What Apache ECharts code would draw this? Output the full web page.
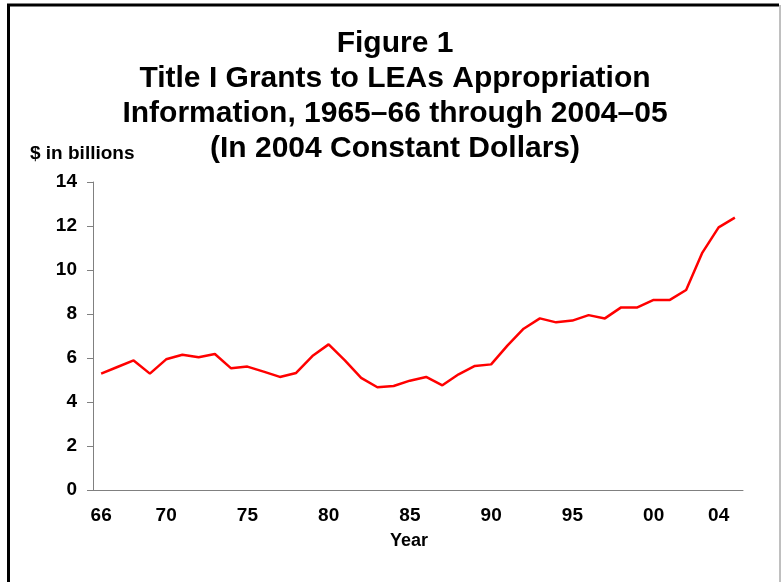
<!DOCTYPE html>
<html>
<head>
<meta charset="utf-8">
<script src="https://cdn.jsdelivr.net/npm/echarts@6/dist/echarts.min.js"></script>
<style>
  html, body { margin: 0; padding: 0; background: #fff; }
  #main { width: 781px; height: 582px; }
</style>
</head>
<body>
<div id="main"></div>
<script>
// fiscal years 1965-66 .. 2004-05, labelled by the ending year
const years = [
  "1966", "1967", "1968", "1969", "1970", "1971", "1972", "1973", "1974", "1975",
  "1976", "1977", "1978", "1979", "1980", "1981", "1982", "1983", "1984", "1985",
  "1986", "1987", "1988", "1989", "1990", "1991", "1992", "1993", "1994", "1995",
  "1996", "1997", "1998", "1999", "2000", "2001", "2002", "2003", "2004", "2005"
];

// $ in billions, 2004 constant dollars
const grants = [
  5.29, 5.59, 5.89, 5.29, 5.94, 6.15, 6.03, 6.18, 5.53, 5.61,
  5.38, 5.14, 5.32, 6.09, 6.62, 5.89, 5.10, 4.67, 4.73, 4.97,
  5.14, 4.76, 5.26, 5.64, 5.71, 6.56, 7.33, 7.80, 7.62, 7.70,
  7.95, 7.80, 8.30, 8.30, 8.64, 8.64, 9.09, 10.79, 11.94, 12.38
];

const tickYears = ["1966", "1970", "1975", "1980", "1985", "1990", "1995", "2000", "2004"];
const yTicks = [0, 2, 4, 6, 8, 10, 12, 14];

const titleLines = [
  "Figure 1",
  "Title I Grants to LEAs Appropriation",
  "Information, 1965\u201366 through 2004\u201305",
  "(In 2004 Constant Dollars)"
];

const font = "Liberation Sans, Arial, sans-serif";

const chart = echarts.init(document.getElementById("main"));

const option = {
  animation: false,
  title: {
    text: titleLines.join("\n"),
    left: 390,
    top: 21,
    textAlign: "center",
    textStyle: {
      fontFamily: font,
      fontWeight: "bold",
      fontSize: 30,
      lineHeight: 35,
      color: "#000"
    }
  },
  grid: { left: 93, right: 38, top: 182, bottom: 92 },
  xAxis: {
    type: "category",
    data: years,
    boundaryGap: true,
    axisLine: { lineStyle: { color: "#808080", width: 1 } },
    axisTick: { show: false },
    axisLabel: {
      interval: (idx, val) => tickYears.includes(val),
      formatter: (val) => val.slice(2),
      margin: 16,
      fontFamily: font,
      fontWeight: "bold",
      fontSize: 19,
      color: "#000"
    }
  },
  yAxis: {
    type: "value",
    min: yTicks[0],
    max: yTicks[yTicks.length - 1],
    interval: 2,
    axisLine: { show: true, lineStyle: { color: "#808080", width: 1 } },
    axisTick: { show: true, length: 6, lineStyle: { color: "#808080" } },
    splitLine: { show: false },
    axisLabel: {
      margin: 16,
      fontFamily: font,
      fontWeight: "bold",
      fontSize: 19,
      color: "#000"
    }
  },
  graphic: [
    {
      type: "text",
      left: 30,
      top: 144,
      style: {
        text: "$ in billions",
        font: "bold 19px " + font,
        fill: "#000"
      }
    },
    {
      type: "text",
      x: 409,
      y: 541,
      style: {
        text: "Year",
        font: "bold 18px " + font,
        fill: "#000",
        align: "center",
        verticalAlign: "middle"
      }
    },
    {
      type: "polyline",
      shape: { points: [[8.5, 600], [8.5, 5], [779, 5]] },
      style: { stroke: "#000", lineWidth: 3, fill: null }
    },
    {
      type: "line",
      shape: { x1: 780, y1: 5, x2: 780, y2: 600 },
      style: { stroke: "#808080", lineWidth: 1 }
    }
  ],
  series: [
    {
      type: "line",
      data: grants,
      showSymbol: false,
      lineStyle: { color: "#ff0000", width: 2.5 }
    }
  ]
};

chart.setOption(option);
</script>
</body>
</html>
